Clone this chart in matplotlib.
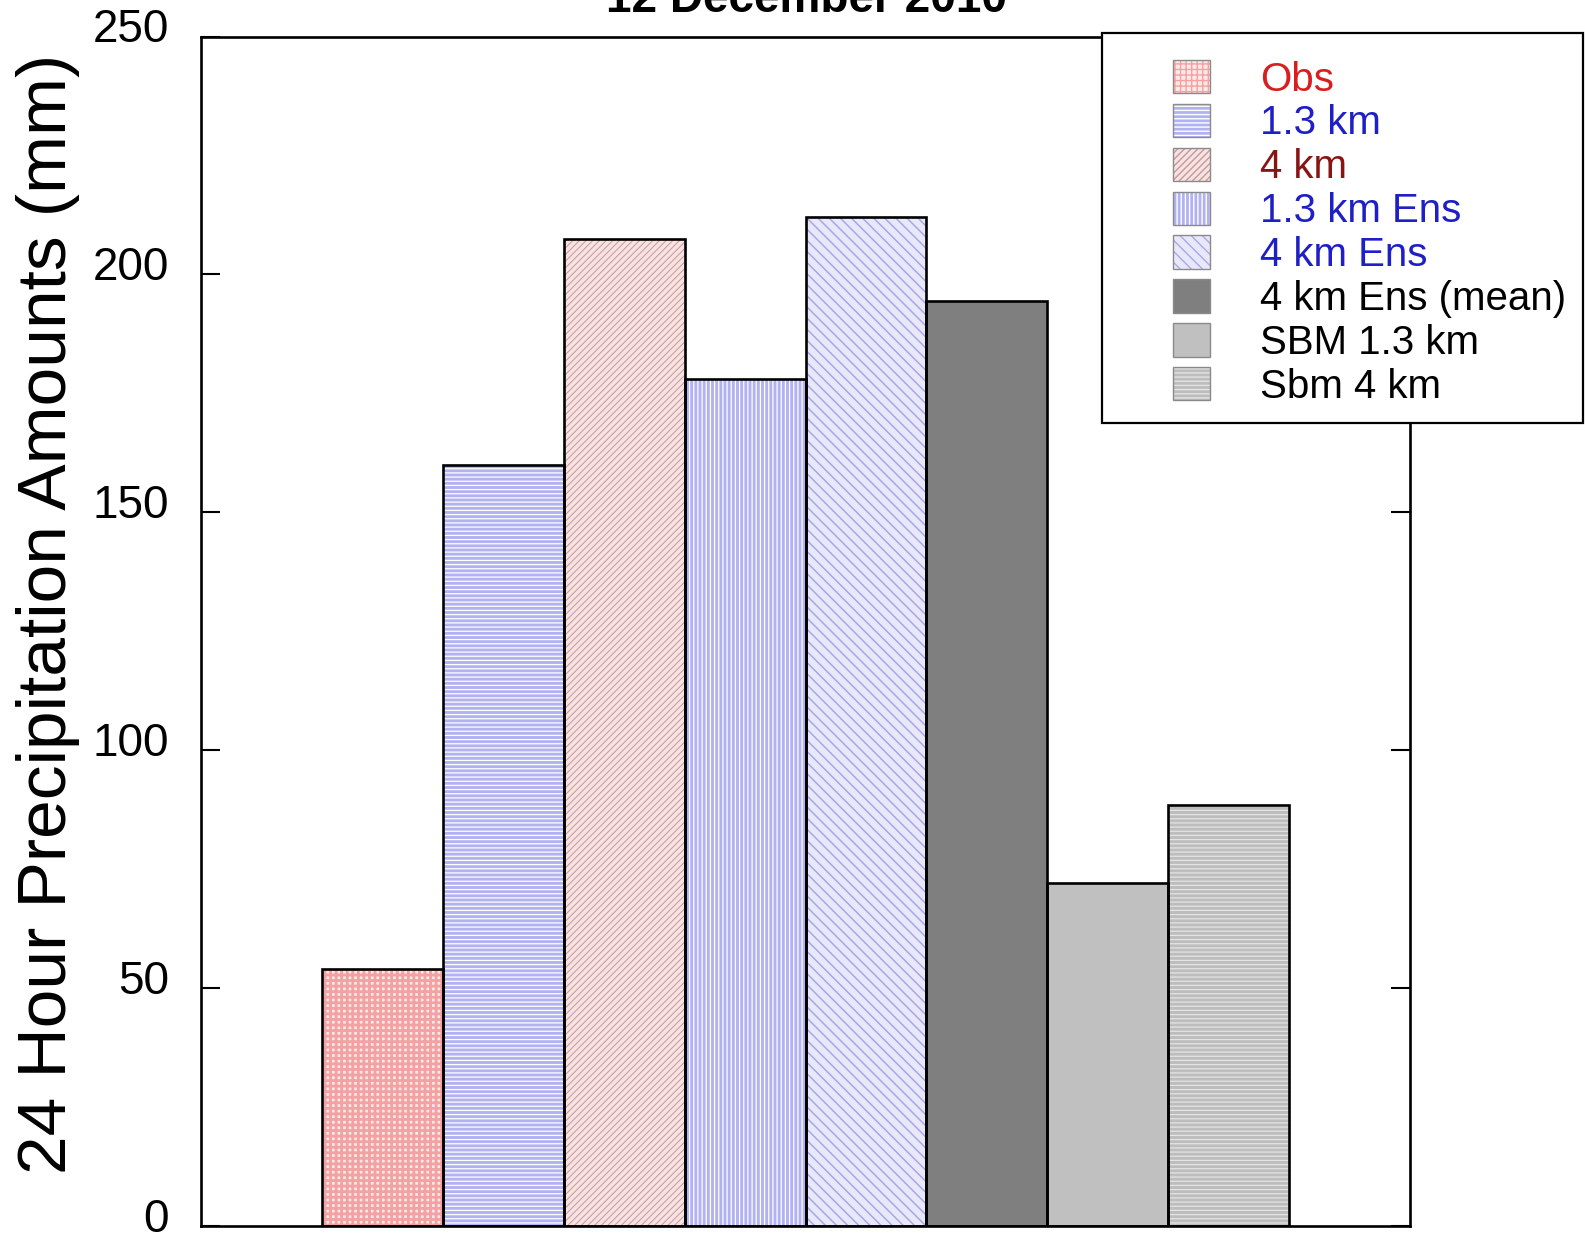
import matplotlib
matplotlib.use("Agg")
import matplotlib.pyplot as plt
import matplotlib.transforms as mtransforms
from matplotlib.patches import Patch, Rectangle

plt.rcParams['font.family'] = ['Liberation Sans', 'DejaVu Sans']

# Experiments and their 24 h precipitation totals (mm)
labels = ["Obs", "1.3 km", "4 km", "1.3 km Ens", "4 km Ens",
          "4 km Ens (mean)", "SBM 1.3 km", "Sbm 4 km"]
amounts = [54, 160, 207.5, 178, 212, 194.5, 72, 88.5]
label_colors = ["#d81e1e", "#1f1fc8", "#8a1414", "#1f1fc8", "#1f1fc8",
                "black", "black", "black"]
yticks = [0, 50, 100, 150, 200, 250]

# fill colour, hatch pattern, hatch colour, hatch line width
styles = [
    ("#fde8e8", "+++", "#f2a2a2", 2.0),
    ("#b2b2f2", "----", "white", 0.9),
    ("#f8e2e2", "/////", "#c49a9a", 0.7),
    ("#b2b2f2", "||||", "white", 0.9),
    ("#e8e8fa", "\\\\\\", "#a8a8e6", 1.1),
    ("#7f7f7f", "", "#7f7f7f", 0.0),
    ("#c0c0c0", "", "#c0c0c0", 0.0),
    ("#bdbdbd", "----", "#e4e4e4", 0.9),
]

W, H, DPI = 1585, 1237, 100
fig = plt.figure(figsize=(W / DPI, H / DPI), dpi=DPI)
ax = fig.add_axes([201 / W, 1 - 1226 / H, (1410 - 201) / W, (1226 - 36.5) / H])

x = list(range(len(amounts)))
handles = []
for xi, val, (fc, hatch, hc, hlw) in zip(x, amounts, styles):
    fill = ax.bar(xi, val, width=1.0, color=fc, hatch=hatch or None,
                  edgecolor=hc, linewidth=0, zorder=2)[0]
    if hasattr(fill, "set_hatch_linewidth"):
        fill.set_hatch_linewidth(hlw)
    ax.bar(xi, val, width=1.0, fill=False, edgecolor="black",
           linewidth=1.9, zorder=3)
    hp = Patch(facecolor=fc, hatch=hatch or None, edgecolor=hc, linewidth=0)
    if hasattr(hp, "set_hatch_linewidth"):
        hp.set_hatch_linewidth(hlw)
    op = Patch(fill=False, edgecolor="#8a8a8a", linewidth=1.0)
    handles.append((hp, op))

ax.set_xlim(-1.5, 8.5)
ax.set_ylim(0, 250)
ax.set_yticks(yticks)
ax.set_xticks([])
ax.tick_params(axis="y", which="both", direction="in", length=14, width=1.5,
               left=True, right=True, labelsize=33, pad=23)
for s in ax.spines.values():
    s.set_linewidth(1.9)

# tick numbers sit slightly above their tick marks
lift = mtransforms.ScaledTranslation(0, 11 / DPI, fig.dpi_scale_trans)
for lab in ax.get_yticklabels():
    lab.set_transform(lab.get_transform() + lift)

fig.text(48 / W, 1 - 614 / H, "24 Hour Precipitation Amounts (mm)",
         rotation=90, ha="center", va="center", fontsize=50)
fig.text(806 / W, 1 - 12 / H, "12 December 2010", ha="center",
         va="baseline", fontsize=33, fontweight="bold")

# legend frame overlapping the upper-right corner of the axes
frame = Rectangle((1102 / W, 1 - 423 / H), (1583 - 1102) / W, (423 - 33) / H,
                  transform=fig.transFigure, facecolor="white",
                  edgecolor="black", linewidth=1.6, zorder=5)
fig.add_artist(frame)

leg = fig.legend(handles, labels, loc="upper left",
                 bbox_to_anchor=(1173 / W, 1 - 60 / H), frameon=False,
                 fontsize=29, borderpad=0, borderaxespad=0,
                 handlelength=0.91, handleheight=0.9, handletextpad=1.25,
                 labelspacing=0.13)
leg.set_zorder(6)
for t, c in zip(leg.get_texts(), label_colors):
    t.set_color(c)

fig.savefig("out.png", dpi=DPI)
